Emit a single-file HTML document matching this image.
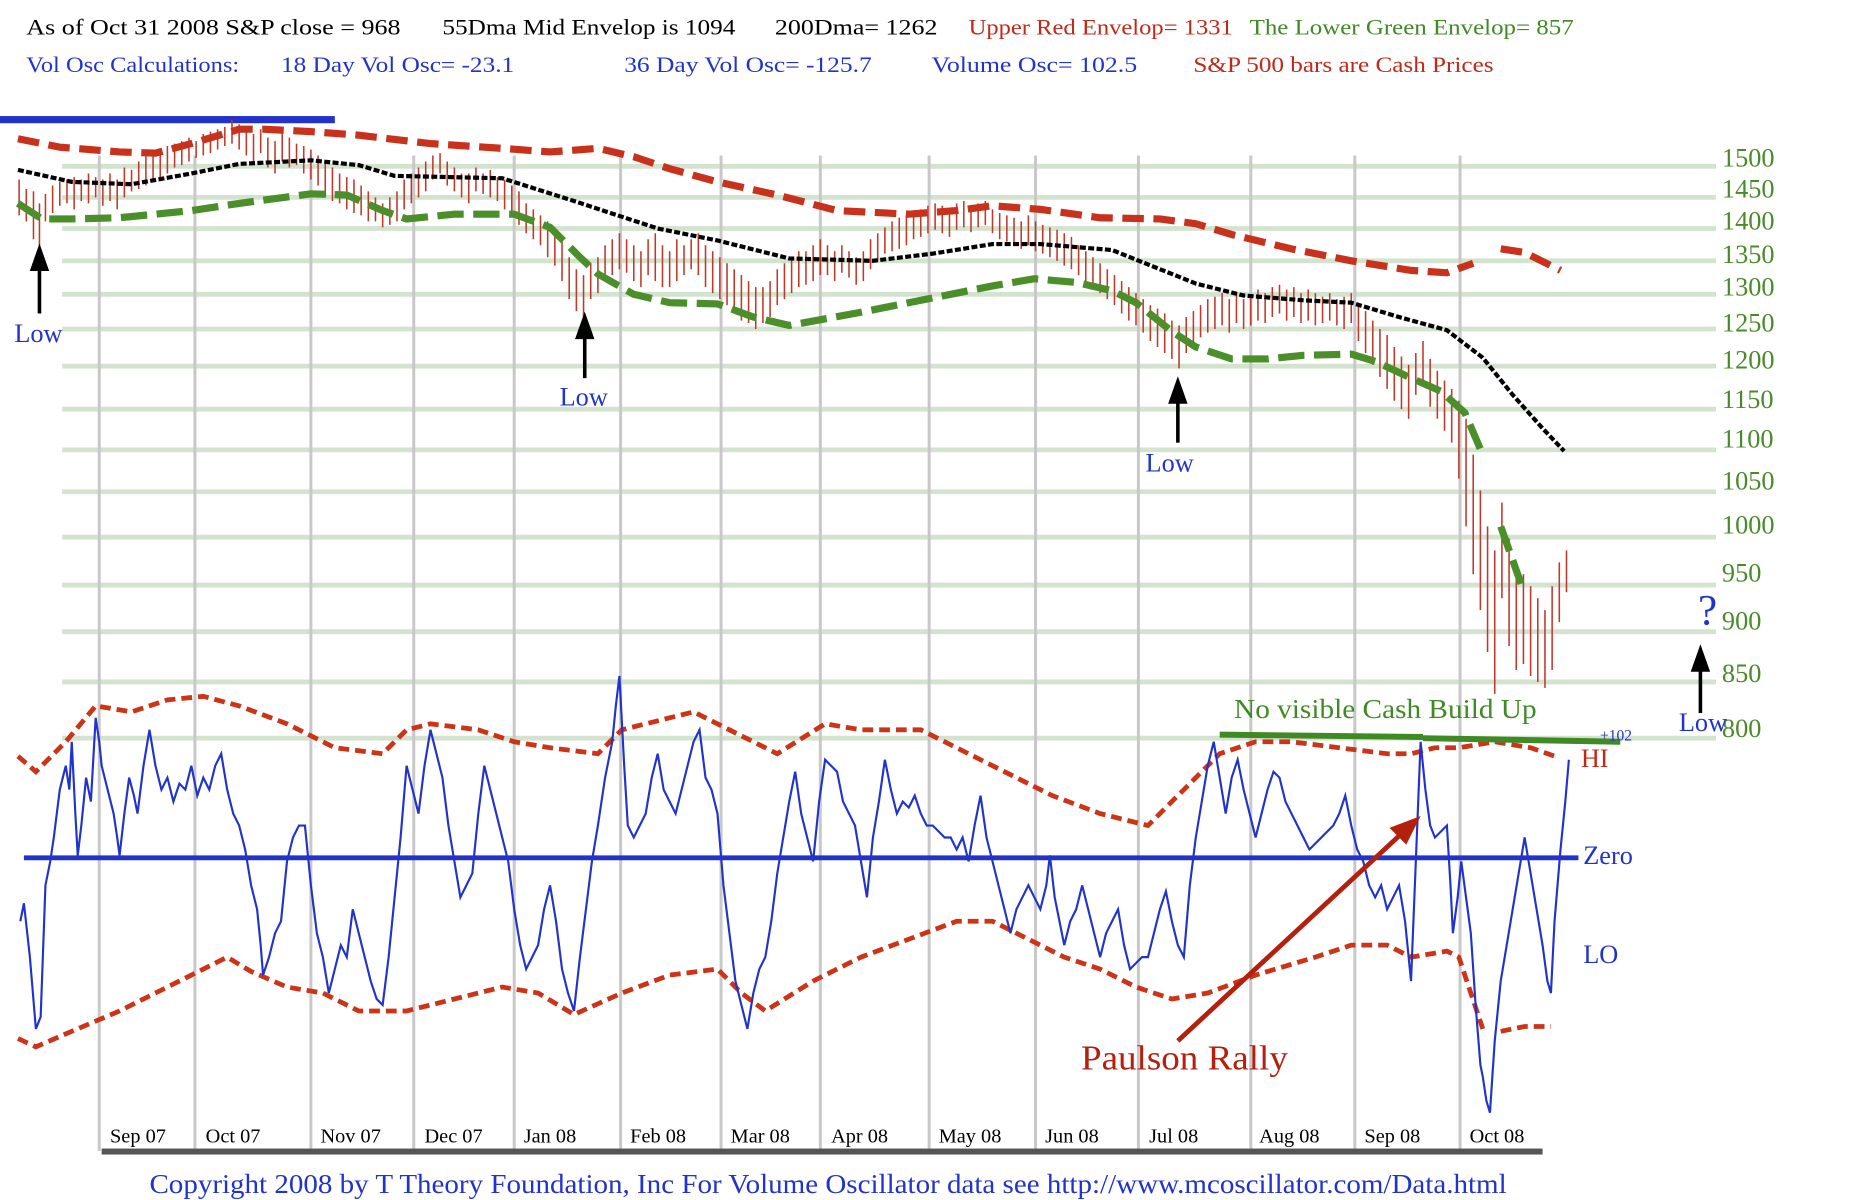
<!DOCTYPE html>
<html><head><meta charset="utf-8"><style>html,body{margin:0;padding:0;background:#fff;overflow:hidden}svg{display:block}</style></head>
<body>
<svg width="1875" height="1200" viewBox="0 0 1568 1003" preserveAspectRatio="none" xmlns="http://www.w3.org/2000/svg" font-family="Liberation Serif, serif">
<rect width="1568" height="1003" fill="#fff"/>
<g font-size="18.5">
<text x="22" y="29" fill="#000" textLength="313" lengthAdjust="spacingAndGlyphs">As of Oct 31  2008   S&amp;P close = 968</text>
<text x="370" y="29" fill="#000" textLength="245" lengthAdjust="spacingAndGlyphs">55Dma Mid Envelop is  1094</text>
<text x="648" y="29" fill="#000" textLength="136" lengthAdjust="spacingAndGlyphs">200Dma=  1262</text>
<text x="810" y="29" fill="#c0281a" textLength="221" lengthAdjust="spacingAndGlyphs">Upper Red Envelop= 1331</text>
<text x="1045" y="29" fill="#3f8a25" textLength="271" lengthAdjust="spacingAndGlyphs">The Lower Green Envelop=  857</text>
<text x="22" y="60" fill="#2233cc" textLength="178" lengthAdjust="spacingAndGlyphs">Vol Osc Calculations:</text>
<text x="235" y="60" fill="#2233cc" textLength="195" lengthAdjust="spacingAndGlyphs">18 Day Vol Osc= -23.1</text>
<text x="522" y="60" fill="#2233cc" textLength="207" lengthAdjust="spacingAndGlyphs">36 Day Vol Osc= -125.7</text>
<text x="779" y="60" fill="#2233cc" textLength="172" lengthAdjust="spacingAndGlyphs">Volume Osc=  102.5</text>
<text x="998" y="60" fill="#c0281a" textLength="251" lengthAdjust="spacingAndGlyphs">S&amp;P 500 bars are Cash Prices</text>
</g>
<rect x="0" y="97" width="280" height="6" fill="#2233cc"/>
<g stroke="#d3e3cf" stroke-width="4">
<line x1="52" x2="1435" y1="139" y2="139"/><line x1="52" x2="1435" y1="165" y2="165"/><line x1="52" x2="1435" y1="191" y2="191"/><line x1="52" x2="1435" y1="218" y2="218"/><line x1="52" x2="1435" y1="246" y2="246"/><line x1="52" x2="1435" y1="275" y2="275"/><line x1="52" x2="1435" y1="306" y2="306"/><line x1="52" x2="1435" y1="342" y2="342"/><line x1="52" x2="1435" y1="376" y2="376"/><line x1="52" x2="1435" y1="411" y2="411"/><line x1="52" x2="1435" y1="449" y2="449"/><line x1="52" x2="1435" y1="489" y2="489"/><line x1="52" x2="1435" y1="528" y2="528"/><line x1="52" x2="1435" y1="570" y2="570"/><line x1="52" x2="1435" y1="617" y2="617"/>
</g>
<g stroke="#c8c8c8" stroke-width="2.5">
<line x1="83" x2="83" y1="130" y2="962"/><line x1="163" x2="163" y1="130" y2="962"/><line x1="260" x2="260" y1="130" y2="962"/><line x1="346" x2="346" y1="130" y2="962"/><line x1="430" x2="430" y1="130" y2="962"/><line x1="519" x2="519" y1="130" y2="962"/><line x1="603" x2="603" y1="130" y2="962"/><line x1="686" x2="686" y1="130" y2="962"/><line x1="777" x2="777" y1="130" y2="962"/><line x1="866" x2="866" y1="130" y2="962"/><line x1="952" x2="952" y1="130" y2="962"/><line x1="1046" x2="1046" y1="130" y2="962"/><line x1="1133" x2="1133" y1="130" y2="962"/><line x1="1221" x2="1221" y1="130" y2="962"/>
</g>
<g fill="#4a8a2a" font-size="22">
<text x="1440" y="139">1500</text><text x="1440" y="165">1450</text><text x="1440" y="192">1400</text><text x="1440" y="220">1350</text><text x="1440" y="247">1300</text><text x="1440" y="277">1250</text><text x="1440" y="308">1200</text><text x="1440" y="341">1150</text><text x="1440" y="374">1100</text><text x="1440" y="409">1050</text><text x="1440" y="446">1000</text><text x="1440" y="486">950</text><text x="1440" y="526">900</text><text x="1440" y="570">850</text><text x="1440" y="616">800</text>
</g>
<path stroke="#c0392b" stroke-width="1.3" fill="none" d="M16 150V180 M22 158V185 M28 160V200 M33 170V210 M38 162V185 M44 155V178 M50 152V172 M56 150V170 M62 148V175 M68 150V168 M74 145V170 M80 148V165 M86 150V172 M92 145V168 M98 150V175 M104 140V165 M110 142V160 M116 135V158 M122 130V155 M128 128V150 M134 125V148 M140 122V145 M146 120V140 M152 118V138 M158 115V135 M164 118V132 M170 112V130 M176 110V128 M182 108V125 M188 106V122 M194 100V120 M200 104V125 M206 110V130 M212 112V135 M218 108V128 M224 115V140 M230 118V145 M236 110V135 M242 115V140 M248 120V138 M254 122V145 M260 125V150 M266 130V155 M272 135V165 M278 140V168 M284 145V170 M290 148V175 M296 150V178 M302 155V180 M308 160V185 M314 165V185 M320 170V190 M326 165V188 M332 160V185 M338 150V175 M344 145V170 M350 140V165 M356 135V160 M362 130V150 M368 128V145 M374 135V155 M380 140V160 M386 145V165 M392 145V170 M398 140V160 M404 145V162 M410 142V165 M416 148V168 M422 150V175 M428 155V180 M434 160V188 M440 170V195 M446 175V200 M452 180V205 M458 185V215 M464 190V222 M470 200V235 M476 215V250 M482 225V260 M488 230V270 M494 220V250 M500 215V245 M506 205V235 M512 200V230 M518 195V225 M524 200V228 M530 205V235 M536 210V240 M542 200V230 M548 195V235 M554 205V240 M560 210V240 M566 200V235 M572 205V230 M578 200V225 M584 195V230 M590 205V240 M596 210V245 M602 215V250 M608 220V255 M614 225V262 M620 230V268 M626 235V270 M632 240V275 M638 240V270 M644 235V265 M650 225V255 M656 220V250 M662 215V245 M668 210V240 M674 210V238 M680 205V235 M686 200V230 M692 205V230 M698 210V235 M704 205V228 M710 210V232 M716 215V238 M722 210V235 M728 200V225 M734 195V218 M740 190V212 M746 185V210 M752 182V208 M758 180V205 M764 178V200 M770 175V198 M776 172V195 M782 170V192 M788 172V195 M794 175V198 M800 170V192 M806 168V190 M812 172V194 M818 170V190 M824 168V188 M830 175V195 M836 178V200 M842 180V202 M848 182V205 M854 185V208 M860 180V205 M866 185V210 M872 188V212 M878 190V215 M884 192V218 M890 195V222 M896 198V225 M902 205V230 M908 210V235 M914 215V240 M920 220V245 M926 225V250 M932 230V255 M938 235V262 M944 240V268 M950 245V272 M956 250V278 M962 255V285 M968 258V290 M974 262V295 M980 268V300 M986 272V308 M992 265V295 M998 260V290 M1004 255V282 M1010 250V278 M1016 248V275 M1022 245V272 M1028 250V278 M1034 245V270 M1040 250V275 M1046 248V272 M1052 242V268 M1058 245V270 M1064 240V265 M1070 238V262 M1076 242V268 M1082 240V265 M1088 245V270 M1094 242V268 M1100 245V272 M1106 248V270 M1112 245V268 M1118 250V272 M1124 248V275 M1130 245V270 M1136 255V285 M1142 260V295 M1148 268V305 M1154 275V315 M1160 280V325 M1166 290V335 M1172 298V342 M1178 305V350 M1184 295V330 M1190 285V320 M1196 300V340 M1202 310V350 M1208 318V360 M1214 325V370 M1220 335V400 M1226 350V440 M1232 380V480 M1238 410V510 M1244 440V545 M1250 460V580 M1256 420V500 M1262 450V540 M1268 470V560 M1274 480V555 M1280 490V565 M1286 500V570 M1292 510V575 M1298 490V560 M1304 470V520 M1310 460V495"/>
<g fill="none">
<polyline stroke="#c8321c" stroke-width="6" stroke-dasharray="18 8" points="15,116 50,123 100,127 130,128 160,120 200,108 220,108 260,110 300,113 360,120 420,124 460,127 500,124 530,131 560,141 600,152 650,163 700,176 760,179 800,176 830,172 870,175 920,182 970,183 1000,187 1030,196 1080,208 1130,218 1180,226 1210,228 1232,220"/>
<polyline stroke="#c8321c" stroke-width="6" stroke-dasharray="18 8" points="1255,208 1275,211 1305,226"/>
<polyline stroke="#4a8f2a" stroke-width="6" stroke-dasharray="22 8" points="15,170 35,183 60,183 100,182 160,176 200,170 260,162 290,163 320,176 340,183 380,179 430,179 460,190 485,215 500,229 530,246 560,253 600,254 630,265 660,272 720,261 780,249 830,239 865,233 900,236 930,243 950,253 980,277 1000,290 1030,300 1060,300 1090,297 1130,296 1150,302 1180,316 1205,327 1225,345 1240,380"/>
<polyline stroke="#4a8f2a" stroke-width="6" stroke-dasharray="22 8" points="1255,440 1272,488"/>
<polyline stroke="#000" stroke-width="3.5" stroke-dasharray="5 2" points="15,142 60,152 110,154 160,145 200,137 260,134 300,138 330,147 420,149 480,168 550,191 600,201 660,216 730,218 780,212 830,204 870,204 930,209 960,221 1000,237 1040,247 1090,251 1130,253 1170,265 1210,276 1240,299 1265,330 1290,358 1308,377"/>
<polyline stroke="#cc3418" stroke-width="4" stroke-dasharray="9 5" points="15,632 30,645 55,620 80,590 110,595 140,585 170,582 200,590 240,605 280,625 320,630 340,610 360,605 400,610 430,620 460,625 500,630 520,610 560,600 580,595 610,610 650,630 690,605 720,610 770,610 800,625 840,645 880,665 920,680 960,690 990,660 1020,630 1050,620 1080,620 1120,625 1160,630 1180,630 1200,625 1220,625 1250,620 1280,625 1300,632"/>
<polyline stroke="#cc3418" stroke-width="4" stroke-dasharray="9 5" points="15,868 30,875 60,862 100,845 150,820 190,800 210,812 240,825 270,830 300,845 340,845 380,835 420,825 450,830 480,848 520,830 560,815 600,810 620,830 640,845 680,820 720,800 760,785 800,770 830,770 860,785 890,800 920,810 950,825 980,835 1010,830 1050,815 1100,800 1130,790 1160,790 1180,800 1210,795 1220,800 1240,860"/>
<polyline stroke="#cc3418" stroke-width="4" stroke-dasharray="9 5" points="1255,862 1275,858 1297,858"/>
</g>
<line x1="20" y1="717" x2="1320" y2="717" stroke="#2233cc" stroke-width="4"/>
<polyline fill="none" stroke="#2233cc" stroke-width="1.8" points="17,770 20,755 25,800 30,860 34,850 38,740 42,720 45,700 50,660 55,640 58,660 60,620 63,680 65,715 68,690 72,650 76,670 80,600 83,620 85,640 90,660 95,680 98,700 100,715 104,680 108,650 112,665 115,680 120,640 125,610 130,640 135,660 140,650 145,670 150,655 155,660 160,640 165,665 170,650 175,660 180,640 185,630 190,660 195,680 200,690 205,710 210,740 215,760 218,790 220,815 225,800 230,780 235,770 240,720 245,700 250,690 255,690 260,740 265,780 270,800 275,830 280,810 285,790 290,800 295,760 300,780 305,800 310,820 315,835 320,840 325,800 330,750 335,700 340,640 345,660 350,680 355,640 360,610 365,630 370,650 375,690 380,720 385,750 390,740 395,730 400,680 405,640 410,660 415,680 420,700 425,720 430,760 435,790 440,810 445,800 450,790 455,760 460,740 465,770 470,810 475,830 480,845 485,800 490,760 495,720 500,690 506,650 512,620 515,590 518,565 522,640 525,690 530,700 535,690 540,680 545,650 550,630 555,660 560,670 565,680 570,660 575,640 580,620 585,610 590,650 595,660 600,680 605,740 610,780 615,820 620,840 625,860 630,830 635,810 640,800 645,770 650,730 655,700 660,670 665,645 670,680 675,700 680,720 685,670 690,635 695,640 700,645 705,670 710,680 715,690 720,720 725,750 730,700 735,670 740,635 745,660 750,680 755,670 760,675 765,665 770,680 775,690 780,690 785,695 790,700 795,700 800,710 805,700 810,720 815,690 820,665 825,700 830,720 835,740 840,760 845,780 850,760 855,750 860,740 865,750 870,760 875,740 878,715 882,750 886,770 890,790 895,770 900,760 905,740 910,760 915,780 920,800 925,780 930,770 935,760 940,790 945,810 950,805 955,800 960,800 965,780 970,760 975,745 980,770 985,790 990,800 995,740 1000,700 1005,670 1010,640 1015,620 1020,650 1025,680 1030,650 1035,635 1040,660 1045,680 1050,700 1055,680 1060,660 1065,645 1070,650 1075,670 1080,680 1085,690 1090,700 1095,710 1100,705 1105,700 1110,695 1115,690 1120,680 1125,665 1130,690 1135,710 1140,720 1145,740 1150,750 1155,740 1160,760 1165,750 1170,740 1175,770 1180,820 1184,720 1188,620 1192,660 1196,690 1200,700 1205,695 1210,690 1213,740 1215,780 1219,750 1222,720 1226,750 1230,780 1234,840 1238,890 1240,900 1243,920 1246,930 1250,870 1255,820 1260,790 1265,760 1270,730 1275,700 1280,730 1285,760 1290,790 1294,820 1297,830 1300,770 1305,710 1309,670 1312,635"/>
<line x1="1020" y1="614" x2="1190" y2="616" stroke="#3f8a25" stroke-width="5"/>
<line x1="1190" y1="617" x2="1355" y2="620" stroke="#3f8a25" stroke-width="5"/>
<text x="1032" y="600" fill="#3f8a25" font-size="23" textLength="253" lengthAdjust="spacingAndGlyphs">No visible Cash Build Up</text>
<text x="1324" y="717" fill="#2233cc" font-size="22" dominant-baseline="middle">Zero</text>
<text x="1324" y="800" fill="#2233cc" font-size="22" dominant-baseline="middle">LO</text>
<text x="1322" y="636" fill="#c0281a" font-size="22" dominant-baseline="middle">HI</text>
<text x="1338" y="619" fill="#2233cc" font-size="13">+102</text>
<line x1="985" y1="870" x2="1175" y2="694" stroke="#b3200e" stroke-width="4"/>
<polygon points="1188,682 1162,692 1176,706" fill="#b3200e"/>
<text x="904" y="894" fill="#b3200e" font-size="29" textLength="173" lengthAdjust="spacingAndGlyphs">Paulson Rally</text>
<g stroke="#000" stroke-width="3" fill="#000">
<line x1="33" y1="262" x2="33" y2="220"/><polygon points="33,208 27,225 39,225"/>
<line x1="489" y1="316" x2="489" y2="278"/><polygon points="489,265 483,282 495,282"/>
<line x1="985" y1="370" x2="985" y2="332"/><polygon points="985,319 979,336 991,336"/>
<line x1="1422" y1="596" x2="1422" y2="556"/><polygon points="1422,543 1416,560 1428,560"/>
</g>
<g fill="#2233cc" font-size="22">
<text x="12" y="286">Low</text><text x="468" y="339">Low</text><text x="958" y="394">Low</text><text x="1404" y="611">Low</text>
<text x="1420" y="522" font-size="36">?</text>
</g>
<g font-size="17" fill="#000">
<text x="92" y="955">Sep 07</text><text x="172" y="955">Oct 07</text><text x="268" y="955">Nov 07</text><text x="355" y="955">Dec 07</text><text x="438" y="955">Jan 08</text><text x="527" y="955">Feb 08</text><text x="611" y="955">Mar 08</text><text x="695" y="955">Apr 08</text><text x="785" y="955">May 08</text><text x="874" y="955">Jun 08</text><text x="961" y="955">Jul 08</text><text x="1053" y="955">Aug 08</text><text x="1141" y="955">Sep 08</text><text x="1229" y="955">Oct 08</text>
</g>
<rect x="85" y="960" width="1205" height="5" fill="#555"/>
<text x="125" y="997" fill="#2233cc" font-size="22.5" textLength="1135" lengthAdjust="spacingAndGlyphs">Copyright 2008 by T Theory Foundation, Inc  For Volume Oscillator data see http://www.mcoscillator.com/Data.html</text>
</svg>
</body></html>
